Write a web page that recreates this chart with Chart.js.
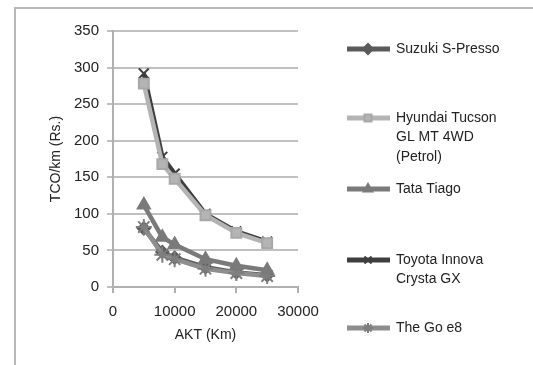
<!DOCTYPE html>
<html>
<head>
<meta charset="utf-8">
<script src="https://cdn.jsdelivr.net/npm/chart.js@4"></script>
<style>
  body { margin: 0; background: #fff; overflow: hidden; }
  #myChart { position: absolute; left: 0; top: 0; }
</style>
</head>
<body>
<canvas id="myChart" width="533" height="365"></canvas>
<script>
// AKT (km) and TCO/km (Rs.) per car
const akt = [5000, 8000, 10000, 15000, 20000, 25000];
const suzuki = [80, 48, 40, 27, 20, 16];
const hyundai = [278, 168, 148, 98, 74, 60];
const tata = [112, 68, 58, 38, 29, 23];
const toyota = [292, 178, 155, 100, 76, 62];
const goE8 = [82, 44, 38, 25, 19, 15];

const names = [
    ['Suzuki S-Presso'],
    ['Hyundai Tucson', 'GL MT 4WD', '(Petrol)'],
    ['Tata Tiago'],
    ['Toyota Innova', 'Crysta GX'],
    ['The Go e8']
];
const yTicks = [0, 50, 100, 150, 200, 250, 300, 350];
const xTicks = [0, 10000, 20000, 30000];

const font = 'Liberation Sans';
const toPoints = arr => arr.map((v, i) => ({ x: akt[i], y: v }));

// chart frame (top and left edges only are inside the picture)
const frame = {
    id: 'frame',
    beforeDraw(chart) {
        const c = chart.ctx;
        c.save();
        c.fillStyle = '#b8b8b8';
        c.fillRect(14, 7, 533 - 14, 2);
        c.fillRect(14, 7, 2, 365 - 7);
        c.restore();
    }
};

// legend drawn by hand, Excel style (multi-line labels)
const legendYs = [49, 118, 189, 260, 328];
const sideLegend = {
    id: 'sideLegend',
    afterDraw(chart) {
        const c = chart.ctx;
        chart.data.datasets.forEach((ds, i) => {
            const y = legendYs[i];
            c.save();
            c.strokeStyle = ds.borderColor;
            c.lineWidth = 5;
            c.beginPath();
            c.moveTo(347, y);
            c.lineTo(390, y);
            c.stroke();
            c.fillStyle = ds.pointBackgroundColor;
            c.strokeStyle = ds.pointBorderColor;
            c.lineWidth = 2;
            Chart.helpers.drawPoint(c, { pointStyle: ds.pointStyle, radius: 5, rotation: 0, borderWidth: 2 }, 368, y);
            c.fillStyle = '#222';
            c.font = '14px "' + font + '"';
            c.textBaseline = 'middle';
            names[i].forEach((line, k) => c.fillText(line, 396, y + k * 19.5));
            c.restore();
        });
    }
};

new Chart(document.getElementById('myChart'), {
    type: 'scatter',
    data: {
        datasets: [
            { data: toPoints(suzuki), borderColor: '#5a5a5a', pointBackgroundColor: '#5a5a5a', pointBorderColor: '#5a5a5a', pointStyle: 'rectRot', pointRadius: 6, order: 5 },
            { data: toPoints(hyundai), borderColor: '#b4b4b4', pointBackgroundColor: '#b4b4b4', pointBorderColor: '#a8a8a8', pointStyle: 'rect', pointRadius: 7, order: 1 },
            { data: toPoints(tata), borderColor: '#7a7a7a', pointBackgroundColor: '#7a7a7a', pointBorderColor: '#7a7a7a', pointStyle: 'triangle', pointRadius: 7, order: 3 },
            { data: toPoints(toyota), borderColor: '#3e3e3e', pointBackgroundColor: '#3e3e3e', pointBorderColor: '#3e3e3e', pointStyle: 'crossRot', pointRadius: 7, order: 2 },
            { data: toPoints(goE8), borderColor: '#8e8e8e', pointBackgroundColor: '#8e8e8e', pointBorderColor: '#7e7e7e', pointStyle: 'star', pointRadius: 8, order: 4 }
        ].map(ds => Object.assign(ds, { showLine: true, borderWidth: 4.5, pointBorderWidth: 2 }))
    },
    options: {
        responsive: false,
        animation: false,
        layout: { padding: { left: 0, top: 31, right: 235, bottom: 0 } },
        plugins: { legend: { display: false }, tooltip: { enabled: false } },
        scales: {
            x: {
                type: 'linear', min: 0, max: 30000,
                afterFit: s => { s.height = 78; },
                afterBuildTicks: s => { s.ticks = xTicks.map(v => ({ value: v })); },
                grid: { drawOnChartArea: false, drawTicks: true, tickLength: 6, color: '#b0b0b0', lineWidth: 2 },
                border: { color: '#b0b0b0', width: 2 },
                ticks: { color: '#222', font: { family: font, size: 15 }, padding: 10, maxRotation: 0, callback: v => String(v) },
                title: { display: true, text: 'AKT (Km)', color: '#222', font: { family: font, size: 14 }, padding: { top: 21, bottom: 21 } }
            },
            y: {
                min: 0, max: 350,
                afterFit: s => { s.width = 113; },
                afterBuildTicks: s => { s.ticks = yTicks.map(v => ({ value: v })); },
                grid: { color: '#c0c0c0', lineWidth: 2, drawTicks: true, tickLength: 6 },
                border: { color: '#b0b0b0', width: 2 },
                ticks: { color: '#222', font: { family: font, size: 15 }, padding: 8 },
                title: { display: true, text: 'TCO/km (Rs.)', color: '#222', font: { family: font, size: 14 }, padding: { top: 48, bottom: 48 } }
            }
        }
    },
    plugins: [frame, sideLegend]
});
</script>
</body>
</html>
